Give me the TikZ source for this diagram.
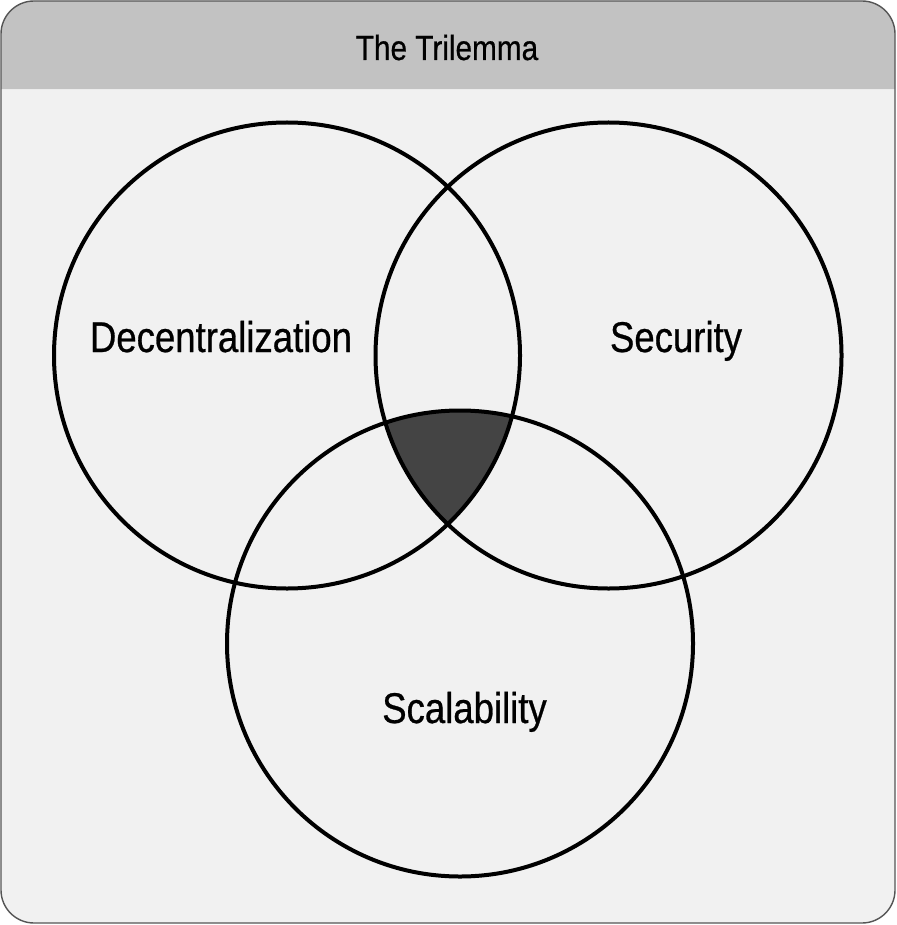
\documentclass[tikz,border=0pt]{standalone}
\usepackage{fontspec}
\setmainfont{Liberation Sans}[FakeStretch=0.85,FakeBold=0.6]
\begin{document}
\begin{tikzpicture}[x=1pt,y=-1pt,
  ring/.style={draw=black,line width=4pt},
  lbl/.style={font=\fontsize{43}{50}\selectfont,anchor=base,inner sep=0pt},
  ttl/.style={font=\fontsize{35}{40}\selectfont,anchor=base,inner sep=0pt}]
\useasboundingbox (0,0) rectangle (896,925);
\definecolor{hdr}{HTML}{C2C2C2}
\definecolor{bodyc}{HTML}{F1F1F1}
\definecolor{core}{HTML}{444444}
\definecolor{frame}{HTML}{555555}
% frame
\begin{scope}
  \clip[rounded corners=33pt] (1,1) rectangle (895,923);
  \fill[bodyc] (0,0) rectangle (896,925);
  \fill[hdr] (0,0) rectangle (896,89.5);
  \draw[white!85!gray,line width=1pt] (0,90) -- (896,90);
\end{scope}
\draw[frame,line width=1.4pt,rounded corners=33pt] (1,1) rectangle (895,923);
\node[ttl] (title) at (447,60) {The Trilemma};
% centers
\coordinate (cd) at (287,355.5);
\coordinate (cs) at (608.5,355.5);
\coordinate (cb) at (460,643.5);
% triple intersection
\begin{scope}
  \clip (cd) circle[radius=233pt];
  \clip (cs) circle[radius=233pt];
  \fill[core] (cb) circle[radius=233pt];
\end{scope}
\draw[ring] (cd) circle[radius=233pt];
\draw[ring] (cs) circle[radius=233pt];
\draw[ring] (cb) circle[radius=233pt];
\node[lbl] (dec) at (221,352) {Decentralization};
\node[lbl] (sec) at (676,352) {Security};
\node[lbl] (sca) at (464.5,723) {Scalability};
\end{tikzpicture}
\end{document}
